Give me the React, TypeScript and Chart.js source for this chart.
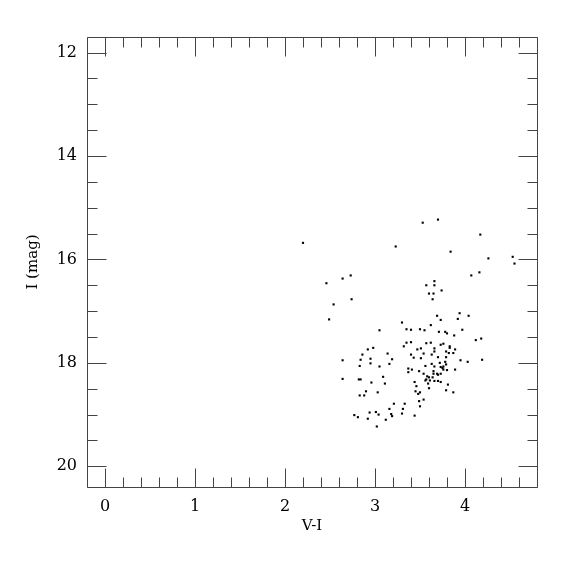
import React, { useEffect, useRef } from "react";
import { Chart, registerables } from "chart.js";

Chart.register(...registerables);

// V-I colour of each star
const vMinusI = [
  2.20, 3.23, 2.73, 2.64, 2.46, 2.74, 2.54, 2.49, 3.30,
  3.53, 3.70, 4.17, 3.84, 4.26, 4.53, 4.55, 4.16, 4.07, 3.66, 3.57, 3.66, 3.74, 3.60, 3.65, 3.64,
  3.94, 3.69, 4.04, 3.92, 3.73,
  3.05, 3.35, 3.35, 3.32, 2.98, 2.92, 3.14, 2.86, 2.64, 2.84, 2.95, 3.19, 2.95, 3.16, 2.83, 3.05,
  3.37, 3.37, 2.64, 2.82, 2.84, 3.09, 2.96, 3.11, 2.90, 3.03, 2.83, 2.88, 3.21, 3.33, 3.16, 3.31,
  2.94, 3.01, 3.30, 2.77, 3.04, 3.18, 2.81, 3.19, 2.92, 3.12, 3.02,
  3.62, 3.40, 3.50, 3.55, 3.71, 3.78, 3.80, 3.88, 3.97, 4.18, 4.12, 3.40, 3.57, 3.62, 3.73, 3.76,
  3.83, 3.83, 3.89, 3.47, 3.51, 3.66, 3.66, 3.79, 3.82, 3.87, 3.40, 3.43, 3.54, 3.63, 3.51, 3.70,
  3.79, 3.95, 4.03, 4.19, 3.63, 3.72, 3.78, 3.79, 3.56, 3.66, 3.73, 3.75, 3.76, 3.76, 3.80, 3.89,
  3.41, 3.49, 3.54, 3.65, 3.65, 3.69, 3.70, 3.73, 3.58, 3.60, 3.64, 3.57, 3.56, 3.61, 3.66, 3.70,
  3.73, 3.44, 3.46, 3.59, 3.81, 3.60, 3.79, 3.87, 3.45, 3.48, 3.50, 3.54,
  3.44, 3.50, 3.49
];

// I magnitude of each star
const iMag = [
  15.68, 15.75, 16.31, 16.37, 16.46, 16.77, 16.87, 17.16, 17.22,
  15.29, 15.23, 15.52, 15.85, 15.98, 15.95, 16.08, 16.25, 16.31, 16.42, 16.50, 16.50, 16.60, 16.66, 16.66, 16.77,
  17.04, 17.09, 17.09, 17.15, 17.17,
  17.37, 17.35, 17.61, 17.68, 17.71, 17.74, 17.82, 17.84, 17.95, 17.94, 17.92, 17.93, 18.01, 18.02, 18.06, 18.07,
  18.11, 18.18, 18.31, 18.32, 18.32, 18.27, 18.38, 18.40, 18.55, 18.57, 18.63, 18.63, 18.79, 18.79, 18.89, 18.89,
  18.96, 18.95, 18.98, 19.01, 19.00, 18.99, 19.05, 19.03, 19.08, 19.10, 19.23,
  17.27, 17.36, 17.35, 17.37, 17.40, 17.40, 17.43, 17.47, 17.36, 17.53, 17.56, 17.60, 17.62, 17.61, 17.65, 17.63,
  17.68, 17.71, 17.74, 17.74, 17.72, 17.72, 17.78, 17.78, 17.81, 17.81, 17.84, 17.90, 17.82, 17.84, 17.91, 17.89,
  17.89, 17.95, 17.98, 17.94, 18.02, 18.00, 17.98, 18.03, 18.06, 18.07, 18.08, 18.10, 18.07, 18.13, 18.14, 18.13,
  18.13, 18.16, 18.21, 18.16, 18.21, 18.21, 18.23, 18.21, 18.26, 18.28, 18.28, 18.32, 18.34, 18.34, 18.35, 18.35,
  18.37, 18.37, 18.45, 18.40, 18.42, 18.49, 18.53, 18.57, 18.55, 18.60, 18.57, 18.71,
  19.02, 18.84, 18.74
];

const xTickValues = [0, 1, 2, 3, 4];
const yTickValues = [12, 14, 16, 18, 20];
const xMinorStep = 0.2;
const yMinorStep = 0.5;
const xRange = [-0.2, 4.8];
const yRange = [11.7, 20.4];
const xTitle = "V-I";
const yTitle = "I (mag)";

const FONT = "'DejaVu Serif', serif";
const AXIS_COLOR = "#444";

function tickList(min: number, max: number, step: number) {
  const out: number[] = [];
  const k0 = Math.ceil(min / step - 1e-9);
  const k1 = Math.floor(max / step + 1e-9);
  for (let k = k0; k <= k1; k++) out.push(+(k * step).toFixed(6));
  return out;
}

const frameTicks = {
  id: "frameTicks",
  afterDraw(chart: any) {
    const { ctx, chartArea: a, scales } = chart;
    const xs = scales.x;
    const ys = scales.y;
    const L = Math.round(a.left) + 0.5;
    const R = Math.round(a.right) + 0.5;
    const T = Math.round(a.top) + 0.5;
    const B = Math.round(a.bottom) + 0.5;
    const MAJ = 19;
    const MIN = 10;
    ctx.save();
    ctx.strokeStyle = AXIS_COLOR;
    ctx.lineWidth = 1;
    ctx.beginPath();
    ctx.rect(L, T, R - L, B - T);
    ctx.stroke();
    ctx.beginPath();
    for (const v of tickList(xs.min, xs.max, xMinorStep)) {
      const major = xTickValues.some((t) => Math.abs(t - v) < 1e-6);
      const len = major ? MAJ : MIN;
      const px = Math.round(xs.getPixelForValue(v)) + 0.5;
      ctx.moveTo(px, B);
      ctx.lineTo(px, B - len);
      ctx.moveTo(px, T);
      ctx.lineTo(px, T + len);
    }
    for (const v of tickList(ys.min, ys.max, yMinorStep)) {
      const major = yTickValues.some((t) => Math.abs(t - v) < 1e-6);
      const len = major ? MAJ : MIN;
      const py = Math.round(ys.getPixelForValue(v)) + 0.5;
      ctx.moveTo(L, py);
      ctx.lineTo(L + len, py);
      ctx.moveTo(R, py);
      ctx.lineTo(R - len, py);
    }
    ctx.stroke();
    ctx.restore();
  },
};

export default function App() {
  const ref = useRef<HTMLCanvasElement | null>(null);
  useEffect(() => {
    if (!ref.current) return;
    const points = vMinusI.map((x, i) => ({ x, y: iMag[i] }));
    const chart = new Chart(ref.current, {
      type: "scatter",
      data: {
        datasets: [
          {
            data: points,
            pointStyle: "rect",
            pointRadius: 1.5,
            pointBorderWidth: 0,
            backgroundColor: "#000",
            borderColor: "#000",
          },
        ],
      },
      options: {
        animation: false,
        responsive: false,
        devicePixelRatio: 1,
        layout: { padding: { top: 37, right: 38, left: 0, bottom: 0 } },
        plugins: {
          legend: { display: false },
          tooltip: { enabled: false },
        },
        scales: {
          x: {
            type: "linear",
            min: xRange[0],
            max: xRange[1],
            grid: { display: false, drawTicks: false },
            border: { display: false },
            afterBuildTicks: (s: any) => {
              s.ticks = xTickValues.map((v) => ({ value: v }));
            },
            afterFit: (s: any) => {
              s.height = 88;
            },
            ticks: {
              autoSkip: false,
              maxRotation: 0,
              padding: 10,
              color: "#000",
              font: { family: FONT, size: 16 },
              callback: (v: any) => String(v),
            },
            title: {
              display: true,
              text: xTitle,
              color: "#000",
              font: { family: FONT, size: 15 },
              padding: { top: 0, bottom: 40 },
            },
          },
          y: {
            type: "linear",
            reverse: true,
            min: yRange[0],
            max: yRange[1],
            grid: { display: false, drawTicks: false },
            border: { display: false },
            afterBuildTicks: (s: any) => {
              s.ticks = yTickValues.map((v) => ({ value: v }));
            },
            afterFit: (s: any) => {
              s.width = 87;
            },
            ticks: {
              autoSkip: false,
              padding: 10,
              color: "#000",
              font: { family: FONT, size: 16 },
              callback: (v: any) => String(v),
            },
            title: {
              display: true,
              text: yTitle,
              color: "#000",
              font: { family: FONT, size: 15 },
              padding: { top: 24, bottom: 0 },
            },
          },
        },
      },
      plugins: [frameTicks],
    });
    return () => chart.destroy();
  }, []);
  return (
    <div style={{ position: "absolute", left: 0, top: 0, width: 575, height: 575, background: "#fff" }}>
      <canvas ref={ref} width={575} height={575} style={{ width: 575, height: 575 }} />
    </div>
  );
}
